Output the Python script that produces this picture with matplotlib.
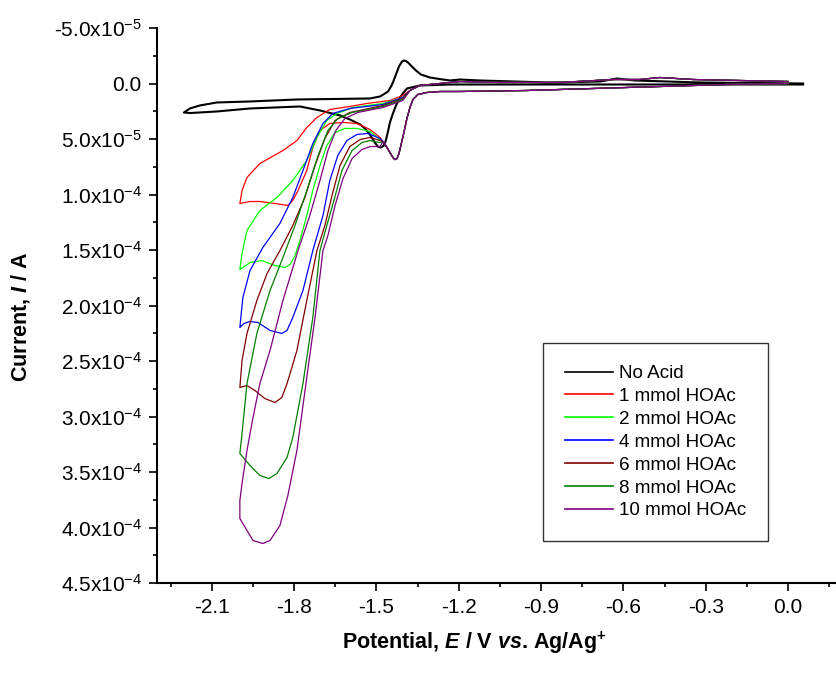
import matplotlib
matplotlib.use("Agg")
import matplotlib.pyplot as plt
from matplotlib.ticker import MultipleLocator, FuncFormatter
import math

plt.rcParams['font.family'] = ['Liberation Sans', 'DejaVu Sans']
plt.rcParams['mathtext.fontset'] = 'custom'
plt.rcParams['mathtext.rm'] = 'Liberation Sans'
plt.rcParams['mathtext.it'] = 'Liberation Sans:italic:bold'
plt.rcParams['mathtext.bf'] = 'Liberation Sans:bold'

# Potential in V, current in units of 1e-5 A (cathodic current positive, plotted downward)

# No acid, full loop
e_noacid = [0.055, -0.321, -0.685, -1.050, -1.232, -1.342, -1.389, -1.404, -1.414, -1.429, -1.440, -1.451,
            -1.458, -1.466, -1.473, -1.484, -1.495, -1.506, -1.524, -1.542, -1.560, -1.597, -1.633, -1.706,
            -1.779, -1.961, -2.082, -2.144, -2.180, -2.202,
            -2.180, -2.144, -2.082, -1.961, -1.790, -1.524, -1.487, -1.469, -1.458, -1.447, -1.440, -1.429,
            -1.418, -1.407, -1.400, -1.393, -1.385, -1.371, -1.356, -1.338, -1.305, -1.269, -1.232, -1.196,
            -1.123, -0.868, -0.685, -0.623, -0.558, -0.321, 0.055]
i_noacid = [0.09, 0.09, 0.09, 0.09, 0.09, 0.18, 0.45, 0.90, 1.26, 1.98, 2.70, 3.51,
            4.32, 5.14, 5.59, 5.77, 5.68, 5.32, 4.59, 4.05, 3.69, 3.24, 2.88, 2.43,
            2.07, 2.25, 2.52, 2.61, 2.66, 2.61,
            2.25, 1.98, 1.71, 1.62, 1.44, 1.35, 1.17, 0.90, 0.72, 0.27, -0.09, -0.81,
            -1.53, -1.98, -2.07, -2.03, -1.89, -1.53, -1.17, -0.81, -0.54, -0.40, -0.27, -0.36,
            -0.27, -0.09, -0.18, -0.45, -0.27, -0.09, 0.0]

# shared start of the forward scan (0 V through the -1.43 V wave) for the acid runs
e_fwd_common = [0.0, -0.222, -0.467, -0.711, -0.951, -1.196, -1.269, -1.316, -1.349, -1.367, -1.378,
                -1.389, -1.400, -1.411, -1.418, -1.425, -1.433, -1.440, -1.451, -1.466, -1.476]
i_fwd_common = [0.0, 0.09, 0.27, 0.45, 0.63, 0.72, 0.72, 0.81, 0.99, 1.44, 2.16,
                3.15, 4.41, 5.59, 6.31, 6.76, 6.85, 6.67, 6.22, 5.59, 5.23]
# shared end of the reverse scan back to 0 V
e_ret_common = [-1.378, -1.342, -1.196, -1.050, -0.831, -0.638, -0.540, -0.467, -0.346, -0.175, 0.0]
i_ret_common = [0.63, 0.18, -0.18, -0.09, -0.09, -0.36, -0.36, -0.54, -0.36, -0.27, -0.18]

# catalytic part of each acid run (forward to -2.0 V, then back)
e_1 = [-1.487, -1.524, -1.571, -1.622, -1.670, -1.706, -1.732, -1.754, -1.786, -1.805, -1.823, -1.870,
       -1.925, -1.961, -1.998,
       -1.990, -1.972, -1.925, -1.841, -1.790, -1.754, -1.717, -1.670, -1.597, -1.535, -1.451, -1.404]
i_1 = [4.86, 4.14, 3.60, 3.51, 3.60, 4.23, 5.77, 7.84, 9.64, 10.54, 10.99, 10.81,
       10.63, 10.63, 10.81,
       9.64, 8.47, 7.21, 6.04, 5.14, 3.96, 3.06, 2.34, 2.07, 1.80, 1.53, 1.08]

e_2 = [-1.487, -1.524, -1.571, -1.615, -1.651, -1.681, -1.706, -1.732, -1.754, -1.779, -1.797, -1.815,
       -1.834, -1.870, -1.918, -1.961, -1.998,
       -1.990, -1.972, -1.925, -1.863, -1.805, -1.754, -1.717, -1.681, -1.644, -1.586, -1.476, -1.404]
i_2 = [5.05, 4.32, 4.05, 4.05, 4.41, 5.59, 7.39, 9.64, 11.89, 14.14, 15.50, 16.31,
       16.58, 16.40, 15.95, 16.13, 16.76,
       15.32, 13.24, 11.44, 10.27, 8.74, 6.94, 4.86, 3.33, 2.70, 2.16, 1.80, 1.26]

e_4 = [-1.487, -1.531, -1.571, -1.608, -1.641, -1.670, -1.695, -1.732, -1.768, -1.805, -1.826, -1.845,
       -1.888, -1.932, -1.961, -1.983, -1.998,
       -1.987, -1.961, -1.914, -1.852, -1.805, -1.768, -1.732, -1.695, -1.659, -1.597, -1.476, -1.404]
i_4 = [4.95, 4.50, 4.59, 5.14, 6.49, 8.74, 11.89, 15.05, 18.65, 21.08, 22.25, 22.52,
       22.25, 21.53, 21.44, 21.62, 21.98,
       19.28, 16.85, 14.77, 12.61, 10.27, 7.84, 5.41, 3.60, 2.70, 2.25, 1.89, 1.26]

e_6 = [-1.487, -1.524, -1.560, -1.597, -1.633, -1.662, -1.688, -1.717, -1.754, -1.790, -1.826, -1.845,
       -1.870, -1.907, -1.943, -1.972, -1.998,
       -1.990, -1.972, -1.936, -1.899, -1.852, -1.805, -1.761, -1.724, -1.688, -1.651, -1.597, -1.476, -1.404]
i_6 = [5.14, 4.86, 5.05, 5.68, 7.39, 10.09, 12.79, 15.05, 19.55, 24.05, 27.03, 28.29,
       28.74, 28.38, 27.66, 27.21, 27.39,
       24.95, 22.52, 19.55, 17.12, 15.05, 12.79, 10.27, 7.39, 4.95, 3.33, 2.61, 1.98, 1.35]

e_8 = [-1.487, -1.524, -1.553, -1.589, -1.626, -1.655, -1.681, -1.706, -1.732, -1.768, -1.805, -1.826,
       -1.863, -1.892, -1.925, -1.961, -1.998,
       -1.990, -1.972, -1.936, -1.888, -1.841, -1.797, -1.754, -1.713, -1.677, -1.641, -1.589, -1.476, -1.404]
i_8 = [5.32, 5.14, 5.32, 6.04, 7.84, 10.54, 12.79, 15.05, 21.08, 27.03, 31.89, 33.69,
       35.14, 35.59, 35.32, 34.41, 33.33,
       31.53, 27.03, 22.52, 18.65, 15.68, 12.79, 9.64, 6.49, 4.23, 3.15, 2.61, 2.07, 1.44]

e_10 = [-1.487, -1.524, -1.553, -1.589, -1.622, -1.651, -1.677, -1.695, -1.724, -1.757, -1.790, -1.823,
        -1.852, -1.888, -1.914, -1.950, -1.972, -1.998,
        -1.998, -1.990, -1.972, -1.950, -1.925, -1.888, -1.841, -1.786, -1.743, -1.706, -1.677, -1.648,
        -1.615, -1.568, -1.476, -1.404]
i_10 = [5.68, 5.68, 5.95, 6.76, 8.56, 10.99, 13.69, 15.05, 21.08, 27.03, 33.06, 37.12,
        39.82, 41.17, 41.44, 41.17, 40.27, 39.19,
        37.57, 36.04, 33.06, 30.09, 27.03, 24.05, 19.55, 15.05, 11.89, 8.74, 6.04, 4.23,
        3.15, 2.61, 2.16, 1.53]

labels = ["1 mmol HOAc", "2 mmol HOAc", "4 mmol HOAc", "6 mmol HOAc", "8 mmol HOAc", "10 mmol HOAc"]
colors = ["#FF0000", "#00FF00", "#0000FF", "#800000", "#008000", "#800080"]
acid_e = [e_1, e_2, e_4, e_6, e_8, e_10]
acid_i = [i_1, i_2, i_4, i_6, i_8, i_10]

fig = plt.figure(figsize=(8.36, 6.73), dpi=100)
ax = fig.add_axes([157 / 836, 90 / 673, 679 / 836, 555 / 673])

ax.plot(e_noacid, [v * 1e-5 for v in i_noacid], color="black", lw=1.5, label="No Acid")
for e, i, c, lab in zip(acid_e, acid_i, colors, labels):
    ee = e_fwd_common + e + e_ret_common
    ii = i_fwd_common + i + i_ret_common
    ax.plot(ee, [v * 1e-5 for v in ii], color=c, lw=0.9, label=lab)

ax.set_xlim(-2.3, 0.175)
ax.set_ylim(4.5e-4, -5e-5)

for s in ["top", "right"]:
    ax.spines[s].set_visible(False)
for s in ["left", "bottom"]:
    ax.spines[s].set_linewidth(1.5)

ax.xaxis.set_major_locator(MultipleLocator(0.3))
ax.xaxis.set_minor_locator(MultipleLocator(0.15))
ax.yaxis.set_major_locator(MultipleLocator(5e-5))
ax.yaxis.set_minor_locator(MultipleLocator(2.5e-5))


def xfmt(v, pos):
    v = round(v, 2)
    if v == 0:
        return "0.0"
    return "%.1f" % v


def yfmt(v, pos):
    if abs(v) < 1e-9:
        return "0.0"
    ex = int(math.floor(math.log10(abs(v)) + 1e-9))
    m = v / 10 ** ex
    return "%.1fx10$^{%d}$" % (m, ex)


ax.xaxis.set_major_formatter(FuncFormatter(xfmt))
ax.yaxis.set_major_formatter(FuncFormatter(yfmt))
ax.tick_params(which="major", direction="out", length=6, width=1.2, labelsize=15, pad=5)
ax.tick_params(which="minor", direction="out", length=3.2, width=1.2)

ax.set_xlabel(r"Potential, $E$ / V $vs$. Ag/Ag$^{\mathbf{+}}$", fontsize=15.5, fontweight="bold")
ax.set_ylabel(r"Current, $I$ / A", fontsize=15.5, fontweight="bold")
ax.xaxis.set_label_coords(0.467, -0.083)
ax.yaxis.set_label_coords(-0.184, 0.48)

leg = ax.legend(loc="upper left", bbox_to_anchor=(543 / 836, 1 - 343 / 673), bbox_transform=fig.transFigure,
                borderaxespad=0, fontsize=13.6, fancybox=False, framealpha=1, edgecolor="#333333",
                handlelength=2.54, handletextpad=0.32, borderpad=1.16, labelspacing=0.3)
leg.get_frame().set_linewidth(1.0)
for h in leg.get_lines():
    h.set_linewidth(1.2)

fig.savefig("out.png", dpi=100)
